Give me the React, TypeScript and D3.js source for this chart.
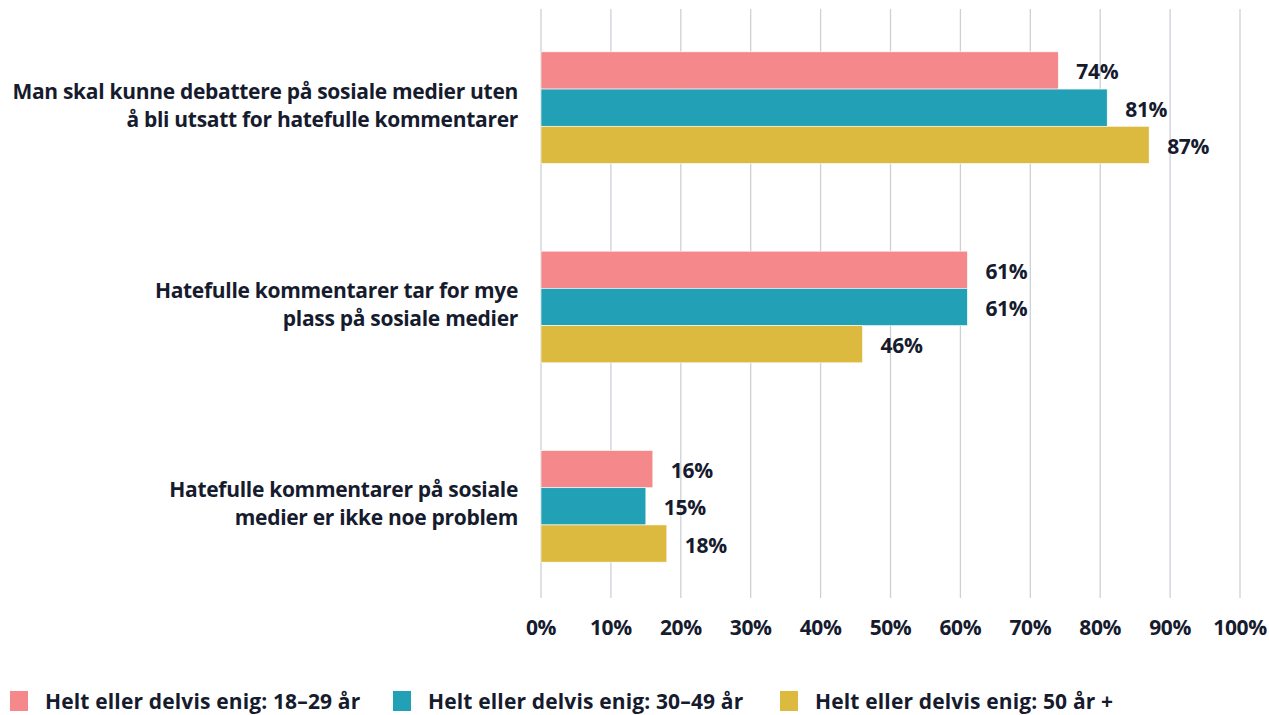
import React from "react";
import * as d3 from "d3";

const categories = [
  "Man skal kunne debattere på sosiale medier uten å bli utsatt for hatefulle kommentarer",
  "Hatefulle kommentarer tar for mye plass på sosiale medier",
  "Hatefulle kommentarer på sosiale medier er ikke noe problem",
];
const categoryLines = [
  ["Man skal kunne debattere på sosiale medier uten", "å bli utsatt for hatefulle kommentarer"],
  ["Hatefulle kommentarer tar for mye", "plass på sosiale medier"],
  ["Hatefulle kommentarer på sosiale", "medier er ikke noe problem"],
];
const seriesNames = [
  "Helt eller delvis enig: 18–29 år",
  "Helt eller delvis enig: 30–49 år",
  "Helt eller delvis enig: 50 år +",
];
const values18_29 = [74, 61, 16];
const values30_49 = [81, 61, 15];
const values50plus = [87, 46, 18];
const seriesValues = [values18_29, values30_49, values50plus];
const colors = ["#F4888A", "#21A0B6", "#DCBA3F"];
const ticks = [0, 10, 20, 30, 40, 50, 60, 70, 80, 90, 100];

const W = 1269;
const H = 715;
const FONT = "'Open Sans', sans-serif";
const TEXT = "#161B2E";
const FS = 21;

export default function App() {
  const x = d3.scaleLinear().domain([0, 100]).range([541, 1240]);
  const y0 = d3
    .scaleBand<string>()
    .domain(categories)
    .range([8, 606])
    .paddingInner(0.44)
    .paddingOuter(0.22);
  const y1 = d3
    .scaleBand<string>()
    .domain(seriesNames)
    .range([0, y0.bandwidth()]);
  const legendX = [10, 393, 780];

  return (
    <svg
      width={W}
      height={H}
      style={{ position: "absolute", left: 0, top: 0, background: "#fff" }}
      fontFamily={FONT}
    >
      {ticks.map((t) => (
        <line
          key={"g" + t}
          x1={x(t)}
          x2={x(t)}
          y1={9}
          y2={598}
          stroke="#CDD1D6"
          strokeWidth={1.3}
        />
      ))}
      {categories.map((c, ci) => (
        <g key={c} transform={`translate(0,${y0(c)})`}>
          {seriesNames.map((s, si) => (
            <rect
              key={s}
              x={x(0)}
              y={y1(s)}
              width={x(seriesValues[si][ci]) - x(0)}
              height={y1.bandwidth()}
              fill={colors[si]}
              stroke="#fff"
              strokeWidth={0.6}
            />
          ))}
          {seriesNames.map((s, si) => (
            <text
              key={"l" + s}
              x={x(seriesValues[si][ci]) + 18}
              y={(y1(s) as number) + y1.bandwidth() / 2 + 1}
              dominantBaseline="central"
              fontSize={FS}
              fontWeight={700}
              letterSpacing={-0.3}
              fill={TEXT}
            >
              {seriesValues[si][ci]}%
            </text>
          ))}
          {categoryLines[ci].map((line, li) => (
            <text
              key={"c" + li}
              x={518}
              y={y0.bandwidth() / 2 - 17 + li * 28}
              textAnchor="end"
              dominantBaseline="central"
              fontSize={FS}
              fontWeight={700}
              letterSpacing={-0.3}
              fill={TEXT}
            >
              {line}
            </text>
          ))}
        </g>
      ))}
      {ticks.map((t) => (
        <text
          key={"t" + t}
          x={x(t)}
          y={627}
          textAnchor="middle"
          dominantBaseline="central"
          fontSize={FS}
          fontWeight={700}
          letterSpacing={-0.4}
          fill={TEXT}
        >
          {t}%
        </text>
      ))}
      {seriesNames.map((s, si) => (
        <g key={"lg" + s} transform={`translate(${legendX[si]},691)`}>
          <rect width={18} height={20} fill={colors[si]} />
          <text
            x={35}
            y={10}
            dominantBaseline="central"
            fontSize={FS}
            fontWeight={700}
            letterSpacing={0.15}
            fill={TEXT}
          >
            {s}
          </text>
        </g>
      ))}
    </svg>
  );
}
